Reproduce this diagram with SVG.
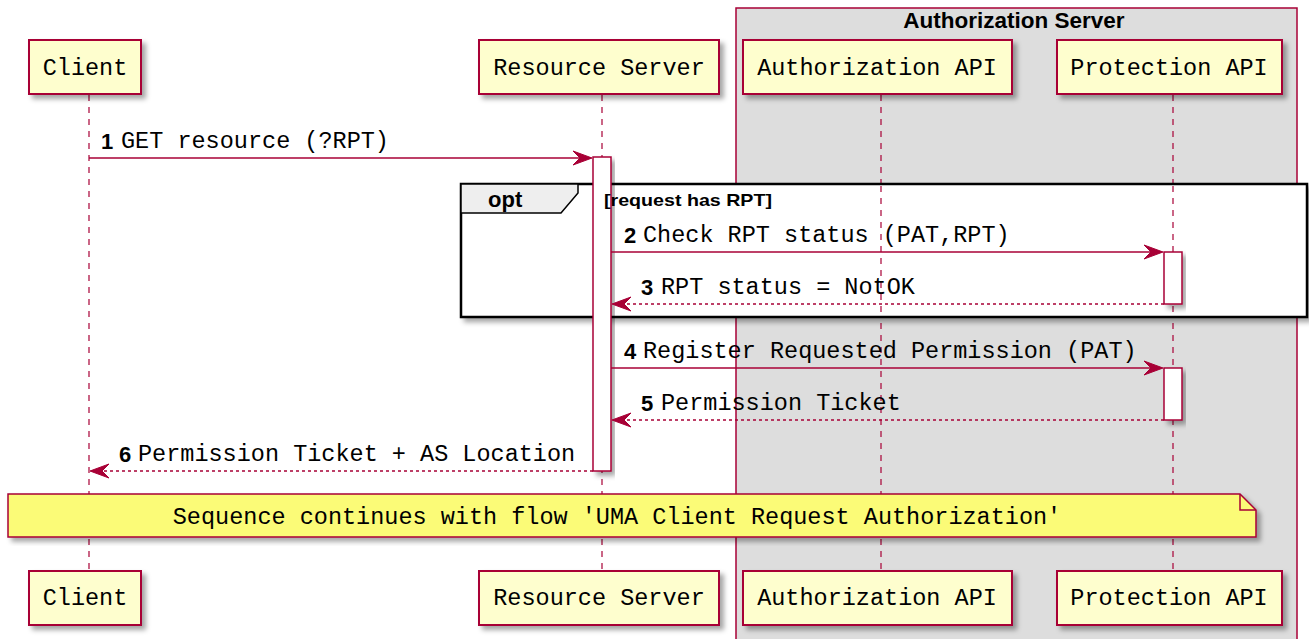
<svg xmlns="http://www.w3.org/2000/svg" width="1309" height="639" viewBox="0 0 1309 639">
<style>
.p{fill:#FEFECE;stroke:#A80036;stroke-width:2;filter:url(#sh)}
.pt{font-family:"Liberation Mono",monospace;font-size:23.5px;fill:#000}
.life{stroke:#A80036;stroke-width:1.2;stroke-dasharray:6,6;fill:none}
.act{fill:#fff;stroke:#A80036;stroke-width:1.5;filter:url(#sh)}
.msg{stroke:#A80036;stroke-width:1.5;fill:none}
.dash{stroke-dasharray:3,3}
.ah{fill:#A80036;stroke:#A80036;stroke-width:1}
.num{font-family:"Liberation Sans",Arial,sans-serif;font-weight:bold;font-size:22px;fill:#000}
.mt{font-family:"Liberation Mono",monospace;font-size:23.5px;fill:#000}
</style>
<defs>
<filter id="sh" x="-20%" y="-20%" width="140%" height="140%">
<feDropShadow dx="4" dy="4" stdDeviation="2.5" flood-color="#000" flood-opacity="0.35"/>
</filter>
</defs>
<rect width="1309" height="639" fill="#fff"/>
<g id="authorization-server">
<rect x="736" y="8" width="561" height="640" fill="#DDDDDD" stroke="#A80036" stroke-width="1.5"/>
<text x="1014" y="28" text-anchor="middle" font-family="Liberation Sans,Arial,sans-serif" font-weight="bold" font-size="22.5" fill="#000">Authorization Server</text>
</g>
<g id="lifelines">
<line class="life" x1="89" y1="95" x2="89" y2="571"/>
<line class="life" x1="602" y1="95" x2="602" y2="571"/>
<line class="life" x1="881" y1="95" x2="881" y2="571"/>
<line class="life" x1="1173" y1="95" x2="1173" y2="571"/>
</g>
<g id="opt-frame">
<rect x="461" y="184" width="846" height="133" fill="#fff" stroke="#000" stroke-width="2.5" filter="url(#sh)"/>
<polygon points="461,184 578,184 578,193 561,213 461,213" fill="#EEEEEE" stroke="#000" stroke-width="1.5"/>
<text x="488" y="207" font-family="Liberation Sans,Arial,sans-serif" font-weight="bold" font-size="22" fill="#000">opt</text>
</g>
<g id="lifelines-over">
<line class="life" x1="881" y1="186" x2="881" y2="316"/>
<line class="life" x1="1173" y1="186" x2="1173" y2="316"/>
</g>
<g id="activations">
<rect class="act" x="593" y="157" width="18" height="314"/>
<rect class="act" x="1164" y="252" width="18" height="52"/>
<rect class="act" x="1164" y="368" width="18" height="52"/>
</g>
<text x="604" y="206" font-family="Liberation Sans,Arial,sans-serif" font-weight="bold" font-size="17" fill="#000" textLength="168" lengthAdjust="spacingAndGlyphs">[request has RPT]</text>
<g id="connectors">
<line class="msg" x1="89" y1="158" x2="590" y2="158"/>
<polygon class="ah" points="592,158 573,151 580,158 573,165"/>
<text class="num" x="101" y="149">1</text><text class="mt" x="121" y="148">GET resource (?RPT)</text>
<line class="msg" x1="611" y1="252" x2="1161" y2="252"/>
<polygon class="ah" points="1163,252 1144,245 1151,252 1144,259"/>
<text class="num" x="624" y="243">2</text><text class="mt" x="643" y="242">Check RPT status (PAT,RPT)</text>
<line class="msg dash" x1="1164" y1="304" x2="614" y2="304"/>
<polygon class="ah" points="612,304 631,297 624,304 631,311"/>
<text class="num" x="641" y="295">3</text><text class="mt" x="661" y="294">RPT status = NotOK</text>
<line class="msg" x1="611" y1="368" x2="1161" y2="368"/>
<polygon class="ah" points="1163,368 1144,361 1151,368 1144,375"/>
<text class="num" x="624" y="359">4</text><text class="mt" x="643" y="358">Register Requested Permission (PAT)</text>
<line class="msg dash" x1="1164" y1="420" x2="614" y2="420"/>
<polygon class="ah" points="612,420 631,413 624,420 631,427"/>
<text class="num" x="641" y="411">5</text><text class="mt" x="661" y="410">Permission Ticket</text>
<line class="msg dash" x1="593" y1="471" x2="92" y2="471"/>
<polygon class="ah" points="90,471 109,464 102,471 109,478"/>
<text class="num" x="119" y="462">6</text><text class="mt" x="138" y="461">Permission Ticket + AS Location</text>
</g>
<g id="note">
<polygon points="8,494 1240,494 1256,510 1256,537 8,537" fill="#FBFB77" stroke="#A80036" stroke-width="1.5" filter="url(#sh)"/>
<polyline points="1240,494 1240,510 1256,510" fill="none" stroke="#A80036" stroke-width="1.5"/>
<text class="mt" x="617" y="524" text-anchor="middle">Sequence continues with flow 'UMA Client Request Authorization'</text>
</g>
<g id="client">
<rect class="p" x="29" y="40" width="112" height="54"/>
<text class="pt" x="85" y="75" text-anchor="middle">Client</text>
<rect class="p" x="29" y="571" width="112" height="54"/>
<text class="pt" x="85" y="605" text-anchor="middle">Client</text>
</g>
<g id="resource-server">
<rect class="p" x="479" y="40" width="240" height="54"/>
<text class="pt" x="599" y="75" text-anchor="middle">Resource Server</text>
<rect class="p" x="479" y="571" width="240" height="54"/>
<text class="pt" x="599" y="605" text-anchor="middle">Resource Server</text>
</g>
<g id="authorization-api">
<rect class="p" x="743" y="40" width="269" height="54"/>
<text class="pt" x="877" y="75" text-anchor="middle">Authorization API</text>
<rect class="p" x="743" y="571" width="269" height="54"/>
<text class="pt" x="877" y="605" text-anchor="middle">Authorization API</text>
</g>
<g id="protection-api">
<rect class="p" x="1057" y="40" width="225" height="54"/>
<text class="pt" x="1169" y="75" text-anchor="middle">Protection API</text>
<rect class="p" x="1057" y="571" width="225" height="54"/>
<text class="pt" x="1169" y="605" text-anchor="middle">Protection API</text>
</g>
</svg>
